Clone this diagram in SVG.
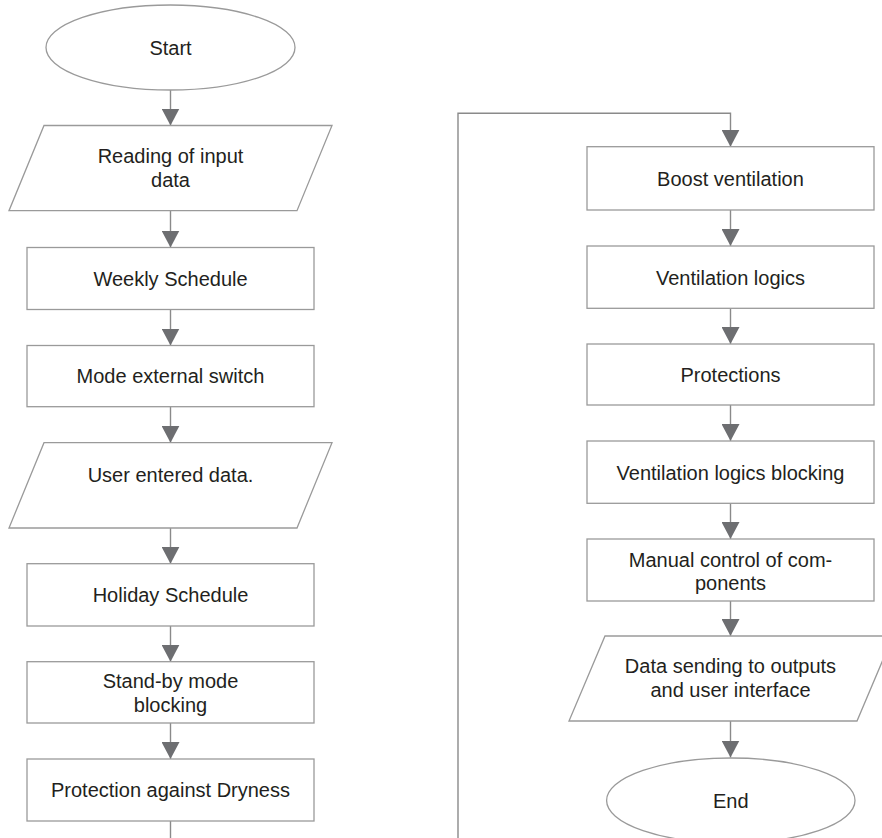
<svg xmlns="http://www.w3.org/2000/svg" width="882" height="838" viewBox="0 0 882 838">
<style>
.shape{fill:#ffffff;stroke:#9a9a9a;stroke-width:1.3}
.lbl{font-family:"Liberation Sans",Arial,sans-serif;font-size:20px;fill:#231f20;text-anchor:middle}
.conn{fill:none;stroke:#8a8a8a;stroke-width:1.4}
</style>
<defs>
<marker id="arr" markerUnits="userSpaceOnUse" viewBox="0 0 17 18" markerWidth="17" markerHeight="18" refX="17" refY="9" orient="auto">
<path d="M0,0 L17,9 L0,18 Z" fill="#6d6e71"/>
</marker>
</defs>
<rect width="882" height="838" fill="#ffffff"/>
<g id="connectors">
<path class="conn" d="M170.5,90 V125.5" marker-end="url(#arr)"/>
<path class="conn" d="M170.5,210.7 V247.5" marker-end="url(#arr)"/>
<path class="conn" d="M170.5,309.5 V345.5" marker-end="url(#arr)"/>
<path class="conn" d="M170.5,406.7 V442.7" marker-end="url(#arr)"/>
<path class="conn" d="M170.5,528 V563.7" marker-end="url(#arr)"/>
<path class="conn" d="M170.5,626 V661.7" marker-end="url(#arr)"/>
<path class="conn" d="M170.5,723 V759" marker-end="url(#arr)"/>
<path class="conn" d="M170.5,821 V840"/>
<path class="conn" d="M458,840 V113.3 H730.5 V146.7" marker-end="url(#arr)"/>
<path class="conn" d="M730.5,210 V246" marker-end="url(#arr)"/>
<path class="conn" d="M730.5,308.3 V344" marker-end="url(#arr)"/>
<path class="conn" d="M730.5,405 V441" marker-end="url(#arr)"/>
<path class="conn" d="M730.5,503.3 V539" marker-end="url(#arr)"/>
<path class="conn" d="M730.5,601 V636" marker-end="url(#arr)"/>
<path class="conn" d="M730.5,721 V757.5" marker-end="url(#arr)"/>
</g>
<g id="start">
<ellipse class="shape" cx="170.5" cy="47.5" rx="124.5" ry="42.5"/>
<text class="lbl" x="170.5" y="55">Start</text>
</g>
<g id="reading-input">
<polygon class="shape" points="44,125.5 332,125.5 297,210.7 9,210.7"/>
<text class="lbl" x="170.5" y="163.3">Reading of input</text>
<text class="lbl" x="170.5" y="187">data</text>
</g>
<g id="weekly-schedule">
<rect class="shape" x="27" y="247.5" width="287" height="62"/>
<text class="lbl" x="170.5" y="286">Weekly Schedule</text>
</g>
<g id="mode-external-switch">
<rect class="shape" x="27" y="345.5" width="287" height="61.2"/>
<text class="lbl" x="170.5" y="383.3">Mode external switch</text>
</g>
<g id="user-entered-data">
<polygon class="shape" points="44,442.7 332,442.7 297,528 9,528"/>
<text class="lbl" x="170.5" y="482">User entered data.</text>
</g>
<g id="holiday-schedule">
<rect class="shape" x="27" y="563.7" width="287" height="62.3"/>
<text class="lbl" x="170.5" y="601.7">Holiday Schedule</text>
</g>
<g id="standby-blocking">
<rect class="shape" x="27" y="661.7" width="287" height="61.3"/>
<text class="lbl" x="170.5" y="687.7">Stand-by mode</text>
<text class="lbl" x="170.5" y="711.7">blocking</text>
</g>
<g id="protection-dryness">
<rect class="shape" x="27" y="759" width="287" height="62"/>
<text class="lbl" x="170.5" y="796.7">Protection against Dryness</text>
</g>
<g id="boost-ventilation">
<rect class="shape" x="587" y="146.7" width="287" height="63.3"/>
<text class="lbl" x="730.5" y="185.5">Boost ventilation</text>
</g>
<g id="ventilation-logics">
<rect class="shape" x="587" y="246" width="287" height="62.3"/>
<text class="lbl" x="730.5" y="285">Ventilation logics</text>
</g>
<g id="protections">
<rect class="shape" x="587" y="344" width="287" height="61"/>
<text class="lbl" x="730.5" y="381.7">Protections</text>
</g>
<g id="ventilation-logics-blocking">
<rect class="shape" x="587" y="441" width="287" height="62.3"/>
<text class="lbl" x="730.5" y="480">Ventilation logics blocking</text>
</g>
<g id="manual-control">
<rect class="shape" x="587" y="539" width="287" height="62"/>
<text class="lbl" x="730.5" y="566.7">Manual control of com-</text>
<text class="lbl" x="730.5" y="589.5">ponents</text>
</g>
<g id="data-sending">
<polygon class="shape" points="605,636 893,636 857,721 569,721"/>
<text class="lbl" x="730.5" y="672.7">Data sending to outputs</text>
<text class="lbl" x="730.5" y="696.7">and user interface</text>
</g>
<g id="end">
<ellipse class="shape" cx="730.8" cy="800.5" rx="124.2" ry="42.5"/>
<text class="lbl" x="730.8" y="808.3">End</text>
</g>
</svg>
